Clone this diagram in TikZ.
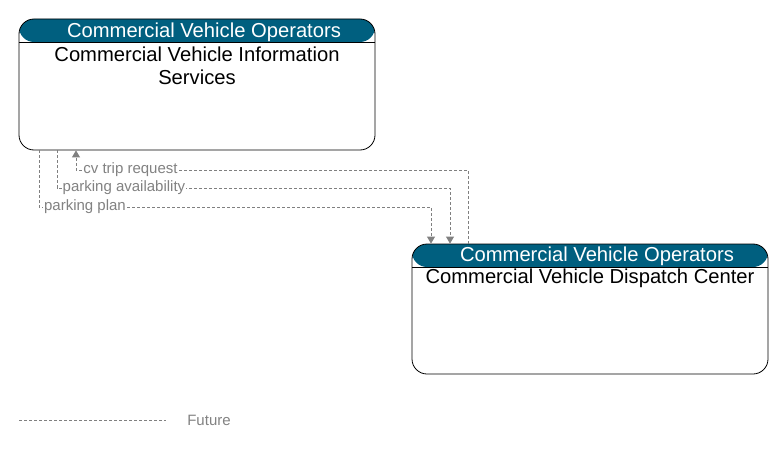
\documentclass[tikz,border=0pt]{standalone}
\usepackage{fontspec}
\setmainfont{Liberation Sans}
\usetikzlibrary{arrows.meta}
\definecolor{hdr}{RGB}{0,95,127}
\definecolor{flowc}{RGB}{128,128,128}
\definecolor{lblc}{RGB}{130,130,130}
\begin{document}
\begin{tikzpicture}[x=1pt,y=-1pt,
  ent/.style={draw=black, line width=0.8pt, rounded corners=15pt, minimum width=356pt, inner sep=0pt,
    path picture={\fill[hdr] (path picture bounding box.north west) rectangle ([yshift=-23pt]path picture bounding box.north east);
      \draw[black, line width=0.8pt] ([yshift=-23pt]path picture bounding box.north west) -- ([yshift=-23pt]path picture bounding box.north east);}},
  hdrtxt/.style={text=white, inner sep=0pt, font=\fontsize{20.2}{23}\selectfont},
  maintxt/.style={text=black, inner sep=0pt, align=center, font=\fontsize{20.2}{23}\selectfont},
  flow/.style={draw=flowc, line width=0.8pt, dash pattern=on 3pt off 2pt},
  tip/.style={-{Triangle[width=8pt,length=7pt]}},
  lbl/.style={fill=white, text=lblc, inner sep=1pt, font=\fontsize{15}{18}\selectfont}]
\useasboundingbox (0,0) rectangle (783,449);
% entities
\node[ent, minimum height=131pt] (cvis) at (197,84.5) {};
\node[ent, minimum height=130pt] (cvdc) at (590,309) {};
\node[hdrtxt] (h1) at (204,32) {Commercial Vehicle Operators};
\node[hdrtxt] (h2) at (597,256.5) {Commercial Vehicle Operators};
\node[maintxt] (t1) at (197,66) {Commercial Vehicle Information\\Services};
\node[maintxt] (t2) at (590,278.5) {Commercial Vehicle Dispatch Center};
% flows
\draw[flow, tip] (cvdc.north -| 468,0) -- (468,170) -- (76,170) -- (cvis.south -| 76,0);
\draw[flow, tip] (cvis.south -| 57,0) -- (57,188) -- (450,188) -- (cvdc.north -| 450,0);
\draw[flow, tip] (cvis.south -| 39,0) -- (39,207) -- (431,207) -- (cvdc.north -| 431,0);
\node[lbl] (l1) at (130.5,170) {cv trip request};
\node[lbl] (l2) at (124,188) {parking availability};
\node[lbl] (l3) at (85,207) {parking plan};
% legend
\coordinate (lg1) at (19,420);
\coordinate (lg2) at (166,420);
\draw[flow] (lg1) -- (lg2);
\node[lbl, fill=none] (lgt) at (209,420) {Future};
\end{tikzpicture}
\end{document}
